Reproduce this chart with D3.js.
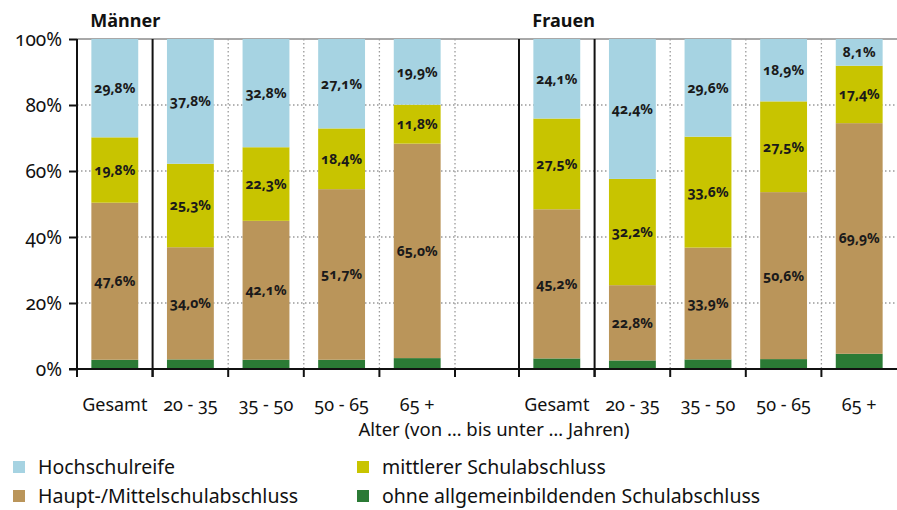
<!DOCTYPE html>
<html>
<head>
<meta charset="utf-8">
<script src="https://cdn.jsdelivr.net/npm/d3@7"></script>
<style>
  html, body { margin: 0; padding: 0; background: #fff; }
  svg { display: block; font-family: "Noto Sans", sans-serif; font-variant-numeric: oldstyle-nums; }
</style>
</head>
<body>
<svg id="chart" width="897" height="510"></svg>
<script>
// Age groups shown under each panel
const ageGroups = ["Gesamt", "20 - 35", "35 - 50", "50 - 65", "65 +"];
const panels = ["Männer", "Frauen"];

// Education levels, stacked bottom to top
const levels = ["ohne allgemeinbildenden Schulabschluss", "Haupt-/Mittelschulabschluss", "mittlerer Schulabschluss", "Hochschulreife"];
const levelColors = ["#2b7a35", "#ba955a", "#c8c400", "#a6d3e2"];

// Shares in percent per age group
const menOhne      = [2.8, 2.9, 2.8, 2.8, 3.3];
const menHaupt     = [47.6, 34.0, 42.1, 51.7, 65.0];
const menMittlerer = [19.8, 25.3, 22.3, 18.4, 11.8];
const menHoch      = [29.8, 37.8, 32.8, 27.1, 19.9];

const womenOhne      = [3.2, 2.6, 2.9, 3.0, 4.6];
const womenHaupt     = [45.2, 22.8, 33.9, 50.6, 69.9];
const womenMittlerer = [27.5, 32.2, 33.6, 27.5, 17.4];
const womenHoch      = [24.1, 42.4, 29.6, 18.9, 8.1];

// Which segments carry a value label (the thin bottom segment does not)
const labelled = [false, true, true, true];

const yTicks = [0, 20, 40, 60, 80, 100];
const xTitle = "Alter (von … bis unter … Jahren)";

const svg = d3.select("#chart");
const plotTop = 39, plotBottom = 369, plotLeft = 77, plotRight = 897;

const y = d3.scaleLinear().domain([0, 100]).range([plotBottom, plotTop]);
const panelRanges = [[plotLeft, 455], [519, plotRight]];
const xScales = panelRanges.map(r => d3.scaleBand().domain(ageGroups).range(r).paddingInner(0.38).paddingOuter(0.19));

const fmt = v => d3.format(".1f")(v).replace(".", ",") + "%";

// Group boundaries: kind = axis | solid | dotted | end
const seps = [];
xScales.forEach((xs, p) => {
  const half = (xs.step() - xs.bandwidth()) / 2;
  ageGroups.forEach((g, i) => {
    let kind = "dotted";
    if (p === 0 && i === 0) kind = "axis";
    else if ((p === 0 && i === 1) || (p === 1 && i <= 1)) kind = "solid";
    seps.push({ x: xs(g) - half, kind });
  });
  const last = xs(ageGroups[ageGroups.length - 1]) + xs.bandwidth() + half;
  seps.push({ x: last, kind: p === 0 ? "dotted" : "end" });
});

// Horizontal grid
svg.append("g").selectAll("line").data(yTicks.filter(t => t > 0 && t < 100)).join("line")
  .attr("x1", plotLeft).attr("x2", plotRight)
  .attr("y1", d => y(d)).attr("y2", d => y(d))
  .attr("stroke", "#9a9a9a").attr("stroke-width", 1.3).attr("stroke-dasharray", "1.5,2.5");
svg.append("line")
  .attr("x1", plotLeft).attr("x2", plotRight).attr("y1", y(100)).attr("y2", y(100))
  .attr("stroke", "#a8a8a8").attr("stroke-width", 2);

// Dotted vertical separators
svg.append("g").selectAll("line").data(seps.filter(s => s.kind === "dotted")).join("line")
  .attr("x1", d => d.x).attr("x2", d => d.x).attr("y1", plotTop).attr("y2", plotBottom)
  .attr("stroke", "#9a9a9a").attr("stroke-width", 1.3).attr("stroke-dasharray", "1.5,2.5");

// Stacked bars
const panelData = [
  [menOhne, menHaupt, menMittlerer, menHoch],
  [womenOhne, womenHaupt, womenMittlerer, womenHoch]
];
panelData.forEach((series, p) => {
  const rows = ageGroups.map((g, i) => {
    const r = { group: g };
    levels.forEach((l, k) => r[l] = series[k][i]);
    return r;
  });
  const stacked = d3.stack().keys(levels)(rows);
  const xs = xScales[p];
  const g = svg.append("g");
  stacked.forEach((layer, k) => {
    g.append("g").attr("fill", levelColors[k]).selectAll("rect").data(layer).join("rect")
      .attr("x", d => xs(d.data.group))
      .attr("width", xs.bandwidth())
      .attr("y", d => y(d[1]))
      .attr("height", d => y(d[0]) - y(d[1]));
  });
  stacked.forEach((layer, k) => {
    if (!labelled[k]) return;
    g.append("g").selectAll("text").data(layer).join("text")
      .attr("x", d => xs(d.data.group) + xs.bandwidth() / 2)
      .attr("y", d => y((d[0] + d[1]) / 2))
      .attr("dy", "0.35em")
      .attr("text-anchor", "middle")
      .attr("font-size", 14).attr("font-weight", 700).attr("fill", "#1a1a1a")
      .text(d => fmt(d[1] - d[0]));
  });
  // Panel title
  svg.append("text")
    .attr("x", xs(ageGroups[0]) - 1).attr("y", 27)
    .attr("font-size", 18).attr("font-weight", 700).attr("fill", "#111")
    .text(panels[p]);
});

// Solid black separators
svg.append("g").selectAll("line").data(seps.filter(s => s.kind === "solid")).join("line")
  .attr("x1", d => d.x).attr("x2", d => d.x).attr("y1", plotTop).attr("y2", plotBottom + 8)
  .attr("stroke", "#111").attr("stroke-width", 2);

// Bottom axis line and tick marks
svg.append("line").attr("x1", plotLeft - 8).attr("x2", plotRight).attr("y1", plotBottom).attr("y2", plotBottom)
  .attr("stroke", "#111").attr("stroke-width", 2);
svg.append("g").selectAll("line").data(seps.filter(s => s.kind !== "end")).join("line")
  .attr("x1", d => d.x).attr("x2", d => d.x).attr("y1", plotBottom).attr("y2", plotBottom + 8)
  .attr("stroke", "#111").attr("stroke-width", 2);

// Y axis
const yAxis = d3.axisLeft(y).tickValues(yTicks).tickFormat(d => d + "%").tickSize(8).tickPadding(7);
const ya = svg.append("g").attr("transform", `translate(${plotLeft},0)`).call(yAxis);
ya.select(".domain").attr("stroke", "#111").attr("stroke-width", 2).attr("d", `M0,${plotTop}V${plotBottom + 8}`);
ya.selectAll(".tick line").attr("stroke", "#111").attr("stroke-width", 2);
ya.selectAll(".tick text").attr("font-size", 19).attr("fill", "#111").attr("font-family", "Noto Sans, sans-serif");

// X category labels
xScales.forEach(xs => {
  svg.append("g").selectAll("text").data(ageGroups).join("text")
    .attr("x", d => xs(d) + xs.bandwidth() / 2)
    .attr("y", 411)
    .attr("text-anchor", "middle")
    .attr("font-size", 18).attr("fill", "#111")
    .text(d => d);
});
svg.append("text").attr("x", 494).attr("y", 436).attr("text-anchor", "middle")
  .attr("font-size", 18.5).attr("fill", "#111").text(xTitle);

// Legend
const legendItems = [
  { name: "Hochschulreife", color: levelColors[3], col: 0, row: 0 },
  { name: "mittlerer Schulabschluss", color: levelColors[2], col: 1, row: 0 },
  { name: "Haupt-/Mittelschulabschluss", color: levelColors[1], col: 0, row: 1 },
  { name: "ohne allgemeinbildenden Schulabschluss", color: levelColors[0], col: 1, row: 1 }
];
const lg = svg.append("g").selectAll("g").data(legendItems).join("g")
  .attr("transform", d => `translate(${13 + d.col * 344},${467 + d.row * 29})`);
lg.append("rect").attr("x", 0).attr("y", -6).attr("width", 12).attr("height", 12).attr("fill", d => d.color);
lg.append("text").attr("x", 25).attr("dy", "0.35em").attr("font-size", 19.5).attr("fill", "#111").text(d => d.name);
</script>
</body>
</html>
